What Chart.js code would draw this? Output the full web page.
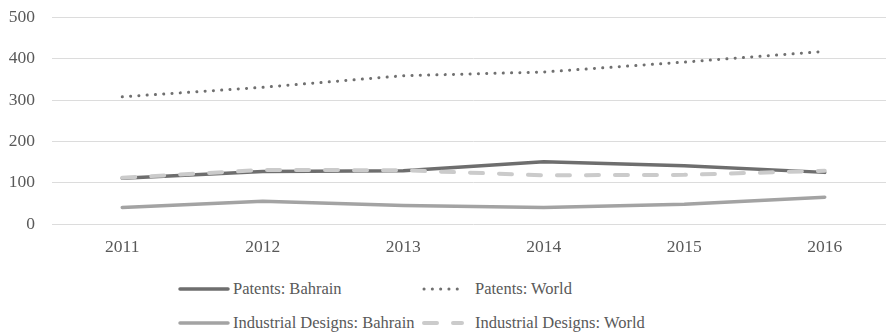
<!DOCTYPE html>
<html>
<head>
<meta charset="utf-8">
<script src="https://cdn.jsdelivr.net/npm/chart.js@4/dist/chart.umd.min.js"></script>
<style>
  html, body { margin: 0; padding: 0; background: #fff; overflow: hidden; }
  #wrap { position: relative; width: 886px; height: 332px; overflow: hidden; }
  #box { position: absolute; left: 0; top: -10px; width: 896px; height: 270px; }
  .leg { position: absolute; font-family: "Liberation Serif", "Times New Roman", serif;
         font-size: 16.5px; color: #595959; white-space: nowrap; line-height: 18px; }
  .leg svg { position: absolute; top: 0; }
  .leg span { position: absolute; top: 0; }
</style>
</head>
<body>
<div id="wrap">
  <div id="box"><canvas id="myChart"></canvas></div>
  <div id="legend"></div>
</div>
<script>
const years = ['2011', '2012', '2013', '2014', '2015', '2016'];
const patentsBahrain = [111, 127, 129, 151, 141, 125];
const patentsWorld = [308, 331, 359, 368, 392, 418];
const designsBahrain = [40, 55, 45, 40, 48, 65];
const designsWorld = [112, 131, 130, 118, 119, 129];
const yTicks = [0, 100, 200, 300, 400, 500];

const serif = '"Liberation Serif", "Times New Roman", serif';

const datasets = [
    { label: 'Patents: Bahrain', data: patentsBahrain, borderColor: '#6e6e6e', borderWidth: 3.5, borderDash: [], order: 3 },
    { label: 'Patents: World', data: patentsWorld, borderColor: '#707070', borderWidth: 3, borderDash: [0.1, 8.2], order: 2 },
    { label: 'Industrial Designs: Bahrain', data: designsBahrain, borderColor: '#a3a3a3', borderWidth: 3.5, borderDash: [], order: 4 },
    { label: 'Industrial Designs: World', data: designsWorld, borderColor: '#cbcbcb', borderWidth: 4, borderDash: [13, 16], order: 1 }
];

function createChart() {
    const ctx = document.getElementById('myChart').getContext('2d');
    return new Chart(ctx, {
        type: 'line',
        data: {
            labels: years,
            datasets: datasets.map(d => ({
                label: d.label,
                data: d.data,
                borderColor: d.borderColor,
                borderWidth: d.borderWidth,
                borderDash: d.borderDash,
                borderCapStyle: 'round',
                borderJoinStyle: 'round',
                order: d.order,
                pointRadius: 0,
                tension: 0,
                fill: false
            }))
        },
        options: {
            responsive: true,
            maintainAspectRatio: false,
            animation: false,
            layout: { padding: { top: 9, left: 0, right: 1, bottom: 0 } },
            plugins: {
                legend: { display: false },
                tooltip: { enabled: false }
            },
            scales: {
                x: {
                    offset: true,
                    grid: { display: false, drawTicks: false },
                    border: { display: false },
                    ticks: { color: '#595959', font: { family: serif, size: 17.5 }, padding: 13 },
                    afterFit: scale => { scale.height = 36; }
                },
                y: {
                    min: 0,
                    max: 500,
                    afterBuildTicks: scale => { scale.ticks = yTicks.map(v => ({ value: v })); },
                    grid: { color: '#dcdcdc', lineWidth: 1, drawTicks: false },
                    border: { display: false },
                    ticks: { color: '#595959', font: { family: serif, size: 17.5 }, padding: 17 },
                    afterFit: scale => { scale.width = 52; }
                }
            }
        }
    });
}

// legend laid out in two aligned columns under the plot
function createLegend() {
    const spots = [
        { x: 178, y: 280, sw: 50, tx: 233 },
        { x: 422, y: 280, sw: 42, tx: 475 },
        { x: 178, y: 314, sw: 50, tx: 233 },
        { x: 422, y: 314, sw: 40, tx: 475 }
    ];
    const holder = document.getElementById('legend');
    datasets.forEach((d, i) => {
        const s = spots[i];
        const item = document.createElement('div');
        item.className = 'leg';
        item.style.left = s.x + 'px';
        item.style.top = s.y + 'px';
        const dash = d.borderDash.length ? d.borderDash.join(' ') : 'none';
        item.innerHTML =
            '<svg width="' + (s.sw + 4) + '" height="18">' +
            '<line x1="2" y1="9" x2="' + (s.sw) + '" y2="9" stroke="' + d.borderColor +
            '" stroke-width="' + d.borderWidth + '" stroke-linecap="round" stroke-dasharray="' + dash + '"/></svg>' +
            '<span style="left:' + (s.tx - s.x) + 'px">' + d.label + '</span>';
        holder.appendChild(item);
    });
}

createChart();
createLegend();
</script>
</body>
</html>
